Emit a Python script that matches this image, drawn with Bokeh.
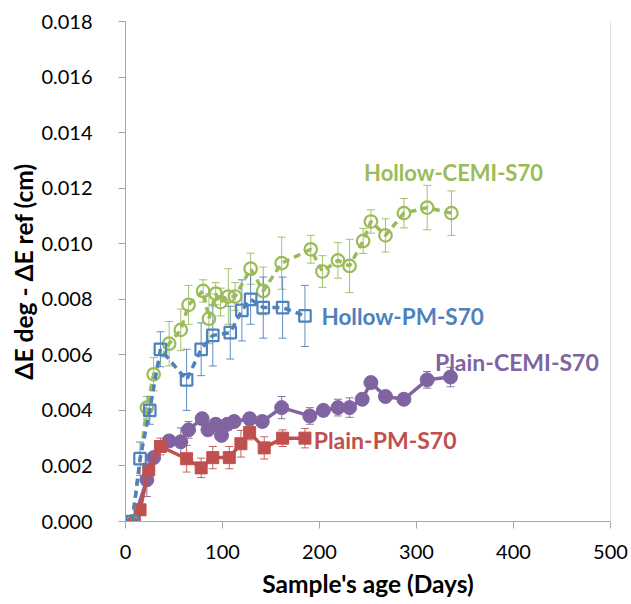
from bokeh.plotting import figure
from bokeh.models import ColumnDataSource, Whisker, FixedTicker, NumeralTickFormatter, Range1d, TeeHead, Label, Span
from bokeh.embed import file_html
from bokeh.resources import INLINE

# ---- data ----
hc_days = [7, 22, 29, 45, 57, 65, 80, 86, 93, 98, 106, 113, 129, 142, 161, 191, 203, 219, 231, 245, 253, 268, 287, 311, 336]
hc_vals = [0, 0.0041, 0.0053, 0.0064, 0.0069, 0.0078, 0.0083, 0.0073, 0.0082, 0.0079, 0.0081, 0.0081, 0.0091, 0.0083,
           0.0093, 0.0098, 0.0090, 0.0094, 0.0092, 0.0101, 0.0108, 0.0103, 0.0111, 0.0113, 0.0111]
hc_err = [0, 0.0004, 0.0006, 0.0008, 0.00075, 0.0007, 0.0004, 0.0009, 0.0004, 0.0005, 0.001, 0.0005, 0.00056, 0.00086,
          0.00094, 0.0005, 0.00057, 0.00064, 0.00096, 0.00045, 0.00042, 0.0006, 0.00053, 0.0008, 0.0008]

hp_days = [7, 15, 25, 36, 63, 78, 90, 108, 120, 129, 142, 162, 185]
hp_vals = [0, 0.00226, 0.0040, 0.0062, 0.0051, 0.0062, 0.0067, 0.0068, 0.0076, 0.0080, 0.0077, 0.0077, 0.0074]
hp_err = [0, 0.0006, 0.0005, 0.00063, 0.0011, 0.00095, 0.0011, 0.00095, 0.0011, 0.0009, 0.0011, 0.0011, 0.0011]

pc_days = [8, 22, 29, 45, 57, 65, 79, 85, 93, 99, 105, 112, 128, 141, 161, 190, 204, 219, 231, 244, 253, 268, 287, 311, 335]
pc_vals = [0, 0.0015, 0.0023, 0.0029, 0.00287, 0.0033, 0.0037, 0.0033, 0.0035, 0.0031, 0.0035, 0.0036, 0.0037, 0.0036,
           0.0041, 0.0038, 0.0040, 0.0041, 0.0041, 0.0044, 0.0050, 0.0045, 0.0044, 0.0051, 0.0052]
pc_err = [0, 0.0006, 0.0002, 0.0002, 0.0005, 0.0003, 0.0002, 0.0002, 0.0002, 0.0002, 0.0002, 0.0002, 0.0002, 0.0002,
          0.0004, 0.0003, 0.0002, 0.0003, 0.00035, 0.0002, 0.0002, 0.0002, 0.0002, 0.0003, 0.00035]

pp_days = [9, 15, 24, 36, 63, 78, 90, 107, 119, 128, 143, 162, 185]
pp_vals = [0, 0.00042, 0.00186, 0.0027, 0.00226, 0.00193, 0.0023, 0.0023, 0.0028, 0.0032, 0.00265, 0.0030, 0.0030]
pp_err = [0, 0.0001, 0.0002, 0.0003, 0.00048, 0.00035, 0.0004, 0.0004, 0.00048, 0.00026, 0.0004, 0.0003, 0.00035]

series_names = ["Hollow-CEMI-S70", "Hollow-PM-S70", "Plain-CEMI-S70", "Plain-PM-S70"]
x_ticks = [0, 100, 200, 300, 400, 500]
y_ticks = [0, 0.002, 0.004, 0.006, 0.008, 0.010, 0.012, 0.014, 0.016, 0.018]

# label anchor positions (data coordinates) and font sizes
label_pos = {"Hollow-CEMI-S70": (246, 0.01256), "Hollow-PM-S70": (202, 0.00738),
             "Plain-CEMI-S70": (319, 0.00576), "Plain-PM-S70": (194, 0.00292)}
label_size = {"Hollow-CEMI-S70": "22px", "Hollow-PM-S70": "22.5px",
              "Plain-CEMI-S70": "23px", "Plain-PM-S70": "23px"}

GREEN = "#9BBB59"
BLUE = "#4F81BD"
PURPLE = "#8064A2"
RED = "#C0504D"

p = figure(width=631, height=604, output_backend="svg", toolbar_location=None,
           x_range=Range1d(0, 500), y_range=Range1d(0, 0.018),
           min_border_left=125, min_border_right=21, min_border_top=21, min_border_bottom=83)
p.xgrid.visible = False
p.ygrid.visible = False
p.outline_line_color = None
p.background_fill_color = "white"
p.border_fill_color = "white"

AX = "#a6a6a6"
for ax in (p.xaxis[0], p.yaxis[0]):
    ax.axis_line_color = AX
    ax.major_tick_line_color = AX
    ax.minor_tick_line_color = None
    ax.major_tick_out = 7
    ax.major_tick_in = 0
    ax.major_label_text_font = "Lato"
    ax.major_label_text_font_size = "20px"
    ax.major_label_text_color = "#000000"
    ax.axis_label_text_font = "Lato"
    ax.axis_label_text_font_style = "bold"
    ax.axis_label_text_font_size = "24.5px"
    ax.axis_label_text_color = "#000000"

p.xaxis.ticker = FixedTicker(ticks=x_ticks)
p.yaxis.ticker = FixedTicker(ticks=y_ticks)
p.yaxis.formatter = NumeralTickFormatter(format="0.000")
p.xaxis.axis_label = "Sample's age (Days)"
p.yaxis.axis_label = "\u0394E deg - \u0394E ref (cm)"
p.xaxis.major_label_standoff = 16
p.yaxis.major_label_standoff = 26
p.xaxis.axis_label_standoff = 7
p.yaxis.axis_label_standoff = 0

# right frame line
p.add_layout(Span(location=500, dimension="height", line_color="#bfbfbf", line_width=1))


def add_series(days, vals, err, color, marker, dashed, size, filled):
    lower = [v - e for v, e in zip(vals, err)]
    upper = [v + e for v, e in zip(vals, err)]
    src = ColumnDataSource(dict(x=days, y=vals, lo=lower, hi=upper))
    w = Whisker(source=src, base="x", upper="hi", lower="lo", line_color=color, line_width=1, line_alpha=0.9,
                upper_head=TeeHead(size=8, line_color=color, line_width=1, line_alpha=0.9),
                lower_head=TeeHead(size=8, line_color=color, line_width=1, line_alpha=0.9))
    p.add_layout(w)
    p.line("x", "y", source=src, line_color=color, line_width=3.5, line_dash="7 5" if dashed else "solid")
    if filled:
        p.scatter("x", "y", source=src, marker=marker, size=size, fill_color=color, line_color=color)
    else:
        p.scatter("x", "y", source=src, marker=marker, size=size, fill_color="white", fill_alpha=0.0,
                  line_color=color, line_width=2.2)


add_series(pc_days, pc_vals, pc_err, PURPLE, "circle", False, 14, True)
add_series(pp_days, pp_vals, pp_err, RED, "square", False, 12, True)
add_series(hc_days, hc_vals, hc_err, GREEN, "circle", True, 12.5, False)
add_series(hp_days, hp_vals, hp_err, BLUE, "square", True, 11.5, False)

for name, color in zip(series_names, [GREEN, BLUE, PURPLE, RED]):
    lx, ly = label_pos[name]
    p.add_layout(Label(x=lx, y=ly, text=name, text_color=color, text_font="Lato", text_font_style="bold",
                       text_font_size=label_size[name], text_align="left", text_baseline="middle"))

open("out.html", "w").write(file_html(p, INLINE))
